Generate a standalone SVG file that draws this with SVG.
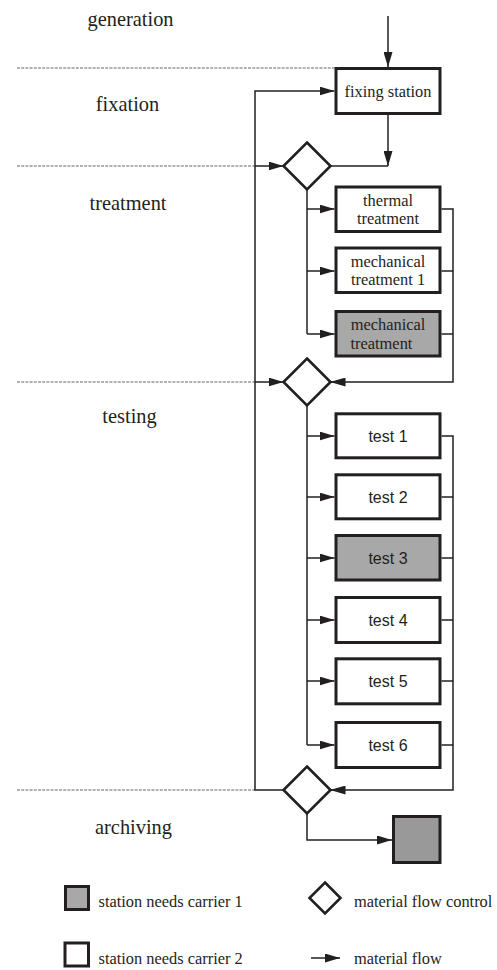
<svg xmlns="http://www.w3.org/2000/svg" width="497" height="970" viewBox="0 0 497 970">
<style>
.lbl{font-family:"Liberation Serif","Times New Roman",serif;font-size:20.4px;fill:#231f20;text-anchor:middle}
.bt{font-family:"Liberation Serif","Times New Roman",serif;font-size:16.4px;fill:#231f20;text-anchor:middle}
.st{font-family:"Liberation Sans",Arial,sans-serif;font-size:16px;fill:#231f20;text-anchor:middle}
.lg{font-family:"Liberation Serif","Times New Roman",serif;font-size:16.4px;fill:#231f20}
.box{fill:#fff;stroke:#231f20;stroke-width:3}
.grey{fill:#a8a8a8;stroke:#231f20;stroke-width:3}
.dgrey{fill:#999;stroke:#231f20;stroke-width:3}
.dia{fill:#fff;stroke:#231f20;stroke-width:2.6}
.c{fill:none;stroke:#231f20;stroke-width:1.5}
.ca{fill:none;stroke:#231f20;stroke-width:1.5;marker-end:url(#ah)}
.dash{fill:none;stroke:#9a9a9a;stroke-width:1.3;stroke-dasharray:3 1.2}
</style>
<defs>
<marker id="ah" markerUnits="userSpaceOnUse" markerWidth="15" markerHeight="9" refX="15" refY="4.5" orient="auto">
<path d="M0,0 L15,4.5 L0,9 z" fill="#231f20"/>
</marker>
</defs>

<g id="phase-labels">
<text class="lbl" x="130.5" y="26">generation</text>
<text class="lbl" x="127.5" y="111">fixation</text>
<text class="lbl" x="128" y="210">treatment</text>
<text class="lbl" x="129.5" y="423">testing</text>
<text class="lbl" x="133.5" y="834">archiving</text>
</g>

<g id="dividers">
<path class="dash" d="M17,68 H334.5"/>
<path class="dash" d="M17,166 H255"/>
<path class="dash" d="M17,382 H255"/>
<path class="dash" d="M17,790 H255"/>
</g>

<g id="connectors">
<path class="ca" d="M388,16 V67"/>
<path class="ca" d="M388,115 V166"/>
<path class="c" d="M330.5,166 H388"/>
<path class="ca" d="M283.5,790 H255 V91 H334.5"/>
<path class="ca" d="M255,166 H283.5"/>
<path class="ca" d="M255,382 H283.5"/>
<path class="c" d="M307,189.5 V334"/>
<path class="ca" d="M307,209 H334.5"/>
<path class="ca" d="M307,271 H334.5"/>
<path class="ca" d="M307,334 H334.5"/>
<path class="ca" d="M441.5,209 H453 V382 H330.5"/>
<path class="c" d="M441.5,271 H453"/>
<path class="c" d="M441.5,334 H453"/>
<path class="c" d="M307,405.5 V745"/>
<path class="ca" d="M307,436 H334.5"/>
<path class="ca" d="M307,497 H334.5"/>
<path class="ca" d="M307,558 H334.5"/>
<path class="ca" d="M307,620 H334.5"/>
<path class="ca" d="M307,681 H334.5"/>
<path class="ca" d="M307,745 H334.5"/>
<path class="ca" d="M441.5,436 H453 V790 H330.5"/>
<path class="c" d="M441.5,497 H453"/>
<path class="c" d="M441.5,558 H453"/>
<path class="c" d="M441.5,620 H453"/>
<path class="c" d="M441.5,681 H453"/>
<path class="c" d="M441.5,745 H453"/>
<path class="ca" d="M307,813.5 V840 H392"/>
</g>

<g id="fixing-station">
<rect class="box" x="336" y="68.5" width="104" height="45"/>
<text class="bt" x="388" y="96.5">fixing station</text>
</g>
<g id="control-1"><polygon class="dia" points="307,142.5 330.5,166 307,189.5 283.5,166"/></g>
<g id="thermal-treatment">
<rect class="box" x="336" y="187" width="104" height="44.5"/>
<text class="bt" x="388" y="206">thermal</text>
<text class="bt" x="388" y="224">treatment</text>
</g>
<g id="mechanical-treatment-1">
<rect class="box" x="336" y="248" width="104" height="44.5"/>
<text class="bt" x="388" y="266.5">mechanical</text>
<text class="bt" x="388" y="284.5">treatment 1</text>
</g>
<g id="mechanical-treatment">
<rect class="grey" x="336" y="311.5" width="104" height="44.5"/>
<text class="bt" x="388" y="330">mechanical</text>
<text class="lg" x="350.5" y="348.5">treatment</text>
</g>
<g id="control-2"><polygon class="dia" points="307,358.5 330.5,382 307,405.5 283.5,382"/></g>
<g id="test-1"><rect class="box" x="336" y="413.8" width="104" height="44"/><text class="st" x="388" y="441.5">test 1</text></g>
<g id="test-2"><rect class="box" x="336" y="474.8" width="104" height="44"/><text class="st" x="388" y="502.5">test 2</text></g>
<g id="test-3"><rect class="grey" x="336" y="535.5" width="104" height="44.5"/><text class="st" x="388" y="563.5">test 3</text></g>
<g id="test-4"><rect class="box" x="336" y="597.5" width="104" height="45"/><text class="st" x="388" y="625.5">test 4</text></g>
<g id="test-5"><rect class="box" x="336" y="658.8" width="104" height="45"/><text class="st" x="388" y="686.5">test 5</text></g>
<g id="test-6"><rect class="box" x="336" y="722.5" width="104" height="45"/><text class="st" x="388" y="750.5">test 6</text></g>
<g id="control-3"><polygon class="dia" points="307,766.5 330.5,790 307,813.5 283.5,790"/></g>
<g id="archive"><rect class="dgrey" x="393.5" y="816.5" width="46.5" height="46"/></g>

<g id="legend">
<rect class="grey" x="65.5" y="886.5" width="23" height="23"/>
<text class="lg" x="98.5" y="906.5">station needs carrier 1</text>
<rect class="box" x="65" y="943" width="23.5" height="23"/>
<text class="lg" x="98.5" y="964">station needs carrier 2</text>
<polygon class="dia" points="325,882.5 340.5,898 325,913.5 309.5,898"/>
<text class="lg" x="354" y="906.5">material flow control</text>
<path class="ca" d="M311,958 H340"/>
<text class="lg" x="354" y="964">material flow</text>
</g>
</svg>
